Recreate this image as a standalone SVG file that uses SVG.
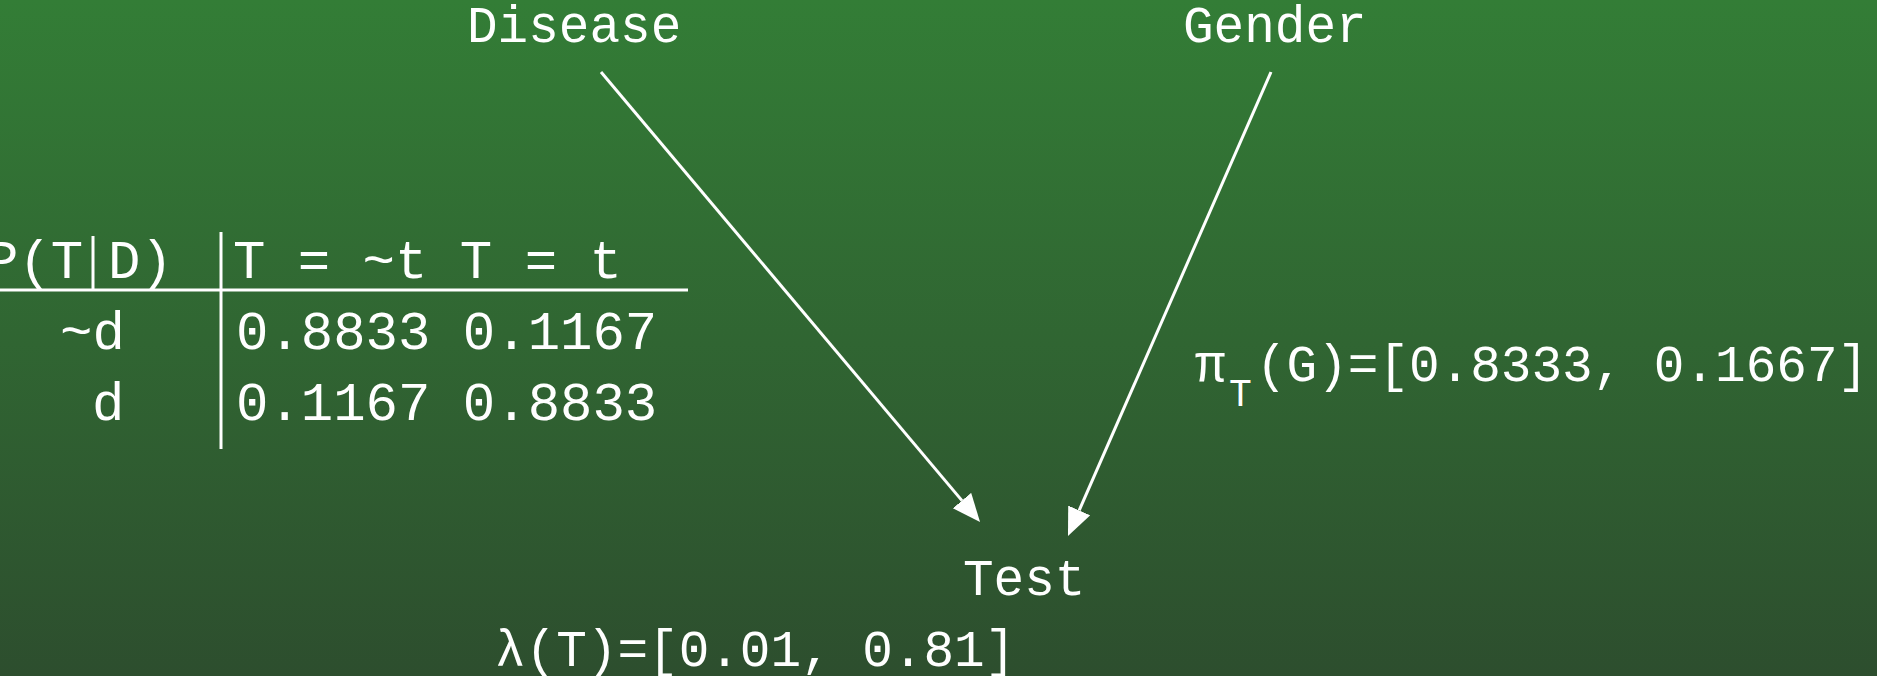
<svg xmlns="http://www.w3.org/2000/svg" width="1877" height="676" viewBox="0 0 1877 676">
  <defs>
    <linearGradient id="bg" x1="0" y1="0" x2="0" y2="1">
      <stop offset="0" stop-color="#337d36"/>
      <stop offset="1" stop-color="#2d4e2e"/>
    </linearGradient>
    <marker id="head" markerUnits="userSpaceOnUse" markerWidth="30" markerHeight="26" refX="0" refY="12" orient="auto">
      <path d="M0,0 L28,12 L0,24 Z" fill="#ffffff"/>
    </marker>
    <style>
      text { font-family: "Liberation Mono", "Courier New", monospace; fill: #ffffff; }
      .node { font-size: 51px; }
      .tbl { font-size: 54px; }
      .edge { stroke: #ffffff; stroke-width: 3; fill: none; }
      .rule { stroke: #ffffff; stroke-width: 3; }
    </style>
  </defs>

  <rect x="0" y="0" width="1877" height="676" fill="url(#bg)"/>

  <!-- conditional probability table for Test given Disease -->
  <g id="cpt">
    <text class="tbl" x="-14" y="278">P(T</text>
    <text class="tbl" x="108" y="278">D)</text>
    <line class="rule" x1="93" y1="236" x2="93" y2="290"/>
    <text class="tbl" x="233" y="278">T = ~t T = t</text>
    <line class="rule" x1="0" y1="290" x2="688" y2="290"/>
    <line class="rule" x1="221" y1="232" x2="221" y2="449"/>
    <text class="tbl" x="60" y="349">~d</text>
    <text class="tbl" x="92" y="420">d</text>
    <text class="tbl" x="236" y="349">0.8833 0.1167</text>
    <text class="tbl" x="236" y="420">0.1167 0.8833</text>
  </g>

  <g id="connectors">
    <line class="edge" x1="601" y1="72" x2="962" y2="500.6" marker-end="url(#head)"/>
    <line class="edge" x1="1271" y1="72" x2="1079.2" y2="510.4" marker-end="url(#head)"/>
  </g>

  <g id="disease">
    <text class="node" x="467" y="42">Disease</text>
  </g>

  <g id="gender">
    <text class="node" x="1183" y="42">Gender</text>
  </g>

  <g id="test">
    <text class="node" x="963" y="595">Test</text>
  </g>

  <!-- messages on the Test node -->
  <g id="pi-message">
    <text class="node" x="1195" y="381">π</text>
    <text class="node" x="1229" y="406" style="font-size:38px">T</text>
    <text class="node" x="1256" y="381">(G)=[0.8333, 0.1667]</text>
  </g>

  <g id="lambda-message">
    <text class="node" x="495" y="666">λ(T)=[0.01, 0.81]</text>
  </g>
</svg>
